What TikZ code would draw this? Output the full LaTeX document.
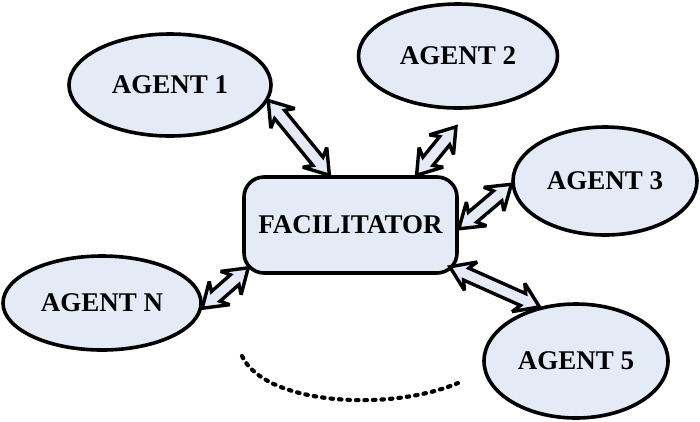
\documentclass[tikz,border=0pt]{standalone}
\usepackage{fontspec}
\setmainfont{Liberation Serif}
\usepackage{tikz}
\usetikzlibrary{shapes.geometric,calc,positioning}

\definecolor{agentfill}{RGB}{229,235,246}

% hollow block arrow with a head at both ends
\newcommand{\duplexarrow}[2]{%
  \draw[linkarrow]
    (#1)
    -- ($(#1)!23pt!(#2)!15.5pt!90:(#2)$)
    -- ($(#1)!18pt!(#2)!6.5pt!90:(#2)$)
    -- ($(#2)!18pt!(#1)!6.5pt!-90:(#1)$)
    -- ($(#2)!23pt!(#1)!15.5pt!-90:(#1)$)
    -- (#2)
    -- ($(#2)!23pt!(#1)!15.5pt!90:(#1)$)
    -- ($(#2)!18pt!(#1)!6.5pt!90:(#1)$)
    -- ($(#1)!18pt!(#2)!6.5pt!-90:(#2)$)
    -- ($(#1)!23pt!(#2)!15.5pt!-90:(#2)$)
    -- cycle;
}

\begin{document}
\begin{tikzpicture}[
    x=1pt, y=-1pt,
    agent/.style={ellipse, draw=black, fill=agentfill, line width=3.6pt, inner sep=0pt, font=\fontsize{27}{30}\selectfont\bfseries},
    hub/.style={rectangle, draw=black, fill=agentfill, line width=3.6pt, rounded corners=20pt, inner sep=0pt, minimum width=213pt, minimum height=96pt, font=\fontsize{27}{30}\selectfont\bfseries},
    linkarrow/.style={draw=black, fill=agentfill, line width=3.4pt, miter limit=3},
    dots/.style={draw=black, line width=4.2pt, line cap=round, dash pattern=on 2.5pt off 6pt}
]
    \useasboundingbox (0,0) rectangle (700,421);

    \node [hub] (fac) at (350.5,225) {FACILITATOR};
    \node [agent, minimum width=202pt, minimum height=102pt] (ag1) at (170,85) {AGENT 1};
    \node [agent, minimum width=199pt, minimum height=104pt] (ag2) at (458,56) {AGENT 2};
    \node [agent, minimum width=184pt, minimum height=108pt] (ag3) at (605,181) {AGENT 3};
    \node [agent, minimum width=198pt, minimum height=94pt] (agn) at (102,303) {AGENT N};
    \node [agent, minimum width=184pt, minimum height=114pt] (ag5) at (576,361) {AGENT 5};

    \coordinate (a2end) at ([shift={(-2,17)}]ag2.south);
    \coordinate (fN) at ([shift={(6,-7)}]fac.south west);
    \coordinate (f5) at ([shift={(-9,-8)}]fac.south east);

    \duplexarrow{ag1.-9}{fac.113}
    \duplexarrow{fac.37}{a2end}
    \duplexarrow{fac.-2}{ag3.182}
    \duplexarrow{agn.-3}{fN}
    \duplexarrow{f5}{ag5.124}

    % more agents
    \draw [dots] (242,356) .. controls (265,405) and (390,412) .. (458,383);
\end{tikzpicture}
\end{document}
